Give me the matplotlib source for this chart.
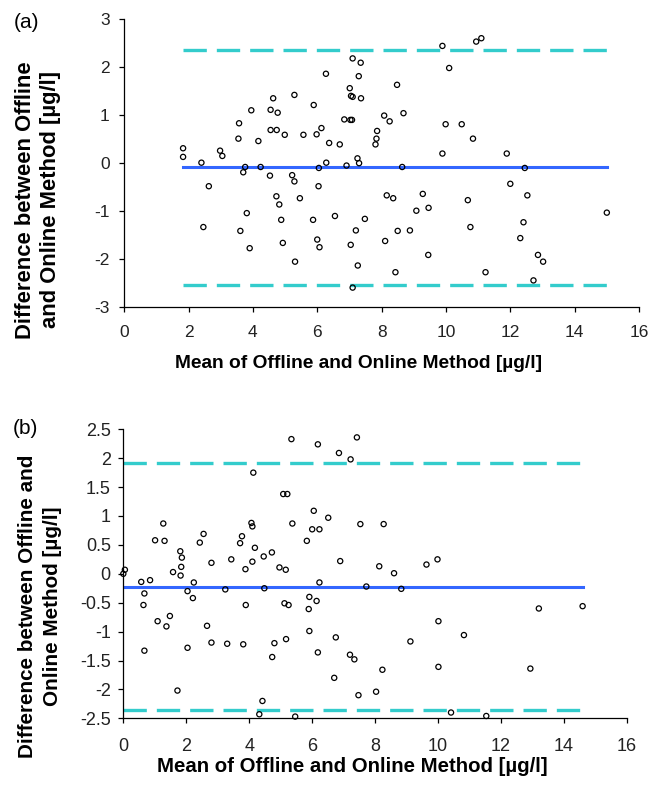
import matplotlib
matplotlib.use("Agg")
import matplotlib.pyplot as plt
import numpy as np

plt.rcParams['font.family'] = ['Liberation Sans', 'DejaVu Sans']

# panel (a): mean of both methods vs. difference
a_mean = [1.83, 1.83, 2.40, 2.63, 2.46, 2.98, 3.05, 3.55, 3.57, 3.95, 3.76, 3.70, 4.17, 4.24, 3.81, 3.61, 3.90,
          4.55, 4.63, 4.77, 4.55, 4.74, 4.99, 4.53, 4.73, 4.82, 4.88, 4.93,
          5.29, 5.22, 5.29, 5.46, 5.31, 5.57, 5.89, 5.98, 6.13, 5.87, 6.00, 6.07, 6.04, 6.05, 6.28, 6.27, 6.37,
          6.70, 6.55, 7.10, 7.35, 7.29, 7.01, 7.05, 7.10, 7.36, 6.84, 7.03, 7.08, 6.91, 7.25, 7.30, 7.20, 7.48, 7.04, 7.26, 7.10,
          7.81, 7.84, 7.86, 8.08, 8.25, 8.48, 8.68, 8.64, 8.16, 8.36, 8.50, 8.11, 8.43, 8.88, 9.08, 9.28, 9.46, 9.45,
          9.89, 10.10, 9.99, 9.89, 10.49, 10.84, 10.68, 10.76, 10.94, 11.10, 11.23, 11.89, 12.00, 12.45, 12.53, 12.41, 12.31,
          12.86, 13.02, 12.72, 15.00]
a_diff = [0.31, 0.13, 0.01, -0.48, -1.33, 0.26, 0.15, 0.51, 0.83, 1.10, -0.08, -0.19, 0.46, -0.08, -1.04, -1.41, -1.77,
          1.11, 1.35, 1.05, 0.69, 0.69, 0.59, -0.26, -0.69, -0.86, -1.18, -1.66,
          1.42, -0.25, -0.38, -0.73, -2.05, 0.59, 1.21, 0.60, 0.73, -1.18, -1.59, -1.75, -0.48, -0.10, 0.01, 1.86, 0.42,
          0.39, -1.10, 2.18, 2.09, 1.81, 1.56, 1.40, 1.38, 1.35, 0.91, 0.90, 0.90, -0.05, 0.10, 0.00, -1.40, -1.16, -1.70, -2.13, -2.59,
          0.39, 0.51, 0.67, 0.99, 0.87, 1.63, 1.04, -0.08, -0.67, -0.73, -1.41, -1.62, -2.27, -1.40, -0.99, -0.64, -0.93, -1.91,
          2.44, 1.98, 0.81, 0.20, 0.81, 0.51, -0.77, -1.33, 2.53, 2.60, -2.27, 0.20, -0.43, -0.10, -0.67, -1.23, -1.56,
          -1.91, -2.05, -2.44, -1.03]
a_bias = -0.08
a_loa = [2.36, -2.53]

# panel (b)
b_mean = [0.00, 0.05, 0.57, 0.85, 0.67, 0.64, 0.67, 1.01, 1.27, 1.31, 1.09, 1.37, 1.48, 1.58, 1.81, 1.86, 1.84, 1.82, 1.72,
          2.04, 2.24, 2.21, 2.04, 2.43, 2.55, 2.66, 2.80, 2.80, 3.24, 3.30, 3.43, 3.71, 3.77, 3.88, 3.89, 3.81,
          4.07, 4.10, 4.18, 4.10, 4.13, 4.46, 4.48, 4.72, 4.80, 4.73, 4.42, 4.32, 4.96, 5.16, 5.12, 5.25, 5.17, 5.08, 5.21, 5.37, 5.34, 5.46,
          5.83, 5.91, 5.89, 5.91, 6.05, 6.00, 6.23, 6.14, 6.23, 6.18, 6.18, 6.51,
          7.42, 6.85, 7.22, 7.53, 8.27, 6.89, 8.13, 8.60, 9.63, 9.98, 7.72, 8.83, 13.20, 14.59, 10.01, 10.82, 9.12, 6.75,
          7.20, 7.34, 10.01, 12.93, 8.23, 6.70, 7.47, 8.03, 10.41, 11.53]
b_diff = [0.00, 0.07, -0.14, -0.11, -0.34, -0.54, -1.33, 0.58, 0.87, 0.57, -0.82, -0.91, -0.73, 0.03, 0.39, 0.28, 0.12, -0.03, -2.02,
          -0.30, -0.15, -0.42, -1.28, 0.54, 0.69, -0.90, 0.19, -1.19, -0.27, -1.21, 0.25, 0.53, 0.65, 0.08, -0.54, -1.22,
          0.88, 0.82, 0.45, 0.21, 1.75, 0.30, -0.25, 0.37, -1.20, -1.44, -2.20, -2.43, 0.11, 0.07, -0.51, -0.54, -1.13, 1.38, 1.38, 0.87, 2.33, -2.47,
          0.57, -0.40, -0.61, -0.99, 1.09, 0.77, 0.77, -0.47, -0.15, -1.36, 2.24, 0.97,
          2.36, 2.09, 1.98, 0.86, 0.86, 0.22, 0.13, 0.01, 0.16, 0.25, -0.22, -0.26, -0.60, -0.56, -0.82, -1.06, -1.17, -1.10,
          -1.40, -1.48, -1.61, -1.64, -1.66, -1.80, -2.10, -2.04, -2.40, -2.46]
b_bias = -0.22
b_loa = [1.91, -2.36]

xticks = [0, 2, 4, 6, 8, 10, 12, 14, 16]
a_yticks = [-3, -2, -1, 0, 1, 2, 3]
b_yticks = [-2.5, -2, -1.5, -1, -0.5, 0, 0.5, 1, 1.5, 2, 2.5]

xlabel = 'Mean of Offline and Online Method [µg/l]'
a_ylabel = 'Difference between Offline\nand Online Method [µg/l]'
b_ylabel = 'Difference between Offline and\nOnline Method [µg/l]'

W, H = 651, 789
fig = plt.figure(figsize=(W / 100, H / 100), dpi=100)


def px_axes(l, r, t, b):
    return fig.add_axes([l / W, 1 - b / H, (r - l) / W, (b - t) / H])


def draw(ax, xs, ys, bias, loa, yticks, fs, xpad, ypad):
    x0, x1 = min(xs), max(xs)
    for v in loa:
        ax.plot([x0, x1], [v, v], color='#33CCCC', lw=2.4,
                linestyle=(0, (7, 3)), solid_capstyle='butt', zorder=1)
    ax.plot([x0, x1], [bias, bias], color='#3366FF', lw=2.2, zorder=2)
    ax.scatter(xs, ys, s=14, facecolors='none', edgecolors='black',
               linewidths=0.9, zorder=3, clip_on=False)
    ax.set_xlim(0, 16)
    ax.set_ylim(yticks[0], yticks[-1])
    ax.set_xticks(xticks)
    ax.set_yticks(yticks)
    ax.set_yticklabels(['%g' % t for t in yticks])
    for s in ['top', 'right']:
        ax.spines[s].set_visible(False)
    for s in ['left', 'bottom']:
        ax.spines[s].set_linewidth(0.9)
    ax.tick_params(direction='out', length=3.5, width=0.9, labelsize=fs,
                   labelcolor='#222222')
    ax.tick_params(axis='x', pad=xpad)
    ax.tick_params(axis='y', pad=ypad)


ax1 = px_axes(124.2, 639, 19, 307.3)
draw(ax1, a_mean, a_diff, a_bias, a_loa, a_yticks, 12.5, 9, 7)
ax2 = px_axes(123.3, 627, 429.3, 718.3)
draw(ax2, b_mean, b_diff, b_bias, b_loa, b_yticks, 13, 10.5, 5.5)

fig.text(14 / W, 1 - 22 / H, '(a)', fontsize=15, ha='left', va='center')
fig.text(13 / W, 1 - 429 / H, '(b)', fontsize=15, ha='left', va='center')

fig.text(359 / W, 1 - 364 / H, xlabel, fontsize=13.8, fontweight='bold',
         ha='center', va='center')
fig.text(352 / W, 1 - 767 / H, xlabel, fontsize=14.7, fontweight='bold',
         ha='center', va='center')

fig.text(38 / W, 1 - 200 / H, a_ylabel, fontsize=15.8, fontweight='bold',
         rotation=90, ha='center', va='center', multialignment='center',
         linespacing=1.31)
fig.text(40 / W, 1 - 606 / H, b_ylabel, fontsize=14.9, fontweight='bold',
         rotation=90, ha='center', va='center', multialignment='center',
         linespacing=1.39)

fig.savefig('out.png', dpi=100)
